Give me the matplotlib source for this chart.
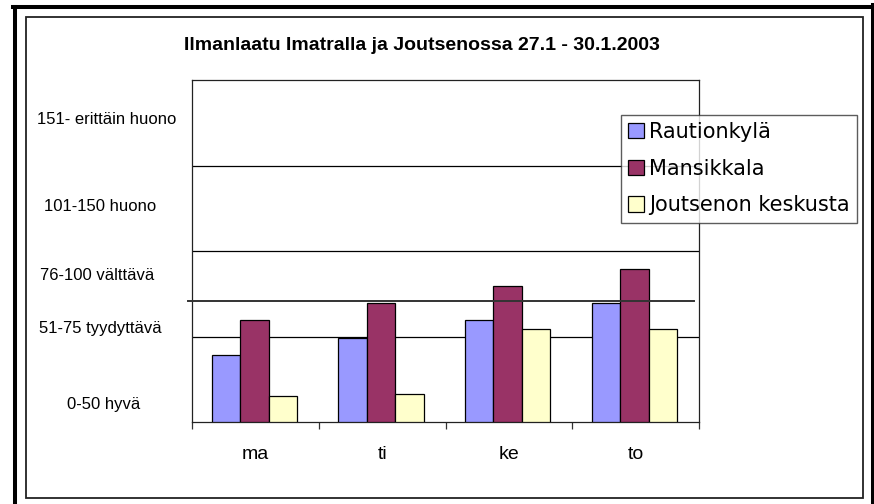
import matplotlib
matplotlib.use("Agg")
import matplotlib.pyplot as plt
import numpy as np
from matplotlib.lines import Line2D
from matplotlib.patches import Patch
import matplotlib.transforms as mtransforms

# ---- data ----
days = ["ma", "ti", "ke", "to"]
series_names = ["Rautionkylä", "Mansikkala", "Joutsenon keskusta"]
rautionkyla = [39.2, 49.0, 59.5, 69.4]
mansikkala = [59.5, 69.4, 79.7, 89.3]
joutseno = [15.4, 16.2, 54.6, 54.6]
band_labels = ["151- erittäin huono", "101-150 huono", "76-100 välttävä",
               "51-75 tyydyttävä", "0-50 hyvä"]
title = "Ilmanlaatu Imatralla ja Joutsenossa 27.1 - 30.1.2003"
colors = ["#9999FF", "#993366", "#FFFFCC"]
threshold = 70.8

W, H = 874, 504
fig = plt.figure(figsize=(W / 100, H / 100), dpi=100)
fig.patch.set_facecolor("white")

def fx(px):
    return px / W

def fy(py):
    return 1 - py / H

# frames
fig.add_artist(Line2D([fx(15), fx(15)], [fy(7), fy(510)], color="black", lw=2.9, transform=fig.transFigure))
fig.add_artist(Line2D([fx(13), fx(880)], [fy(7), fy(7)], color="black", lw=2.9, transform=fig.transFigure))
fig.add_artist(Line2D([fx(872.5), fx(872.5)], [fy(5), fy(510)], color="black", lw=2.9, transform=fig.transFigure))
fig.add_artist(plt.Rectangle((fx(25.5), fy(498)), fx(862.5) - fx(25.5), fy(16.5) - fy(498),
                             fill=False, edgecolor="#222222", lw=1.3, transform=fig.transFigure))

ax = fig.add_axes([fx(192.3), fy(422), fx(699) - fx(192.3), fy(80) - fy(422)])
x = np.arange(len(days))
bw = 0.225
for i, (vals, c, name) in enumerate(zip([rautionkyla, mansikkala, joutseno], colors, series_names)):
    ax.bar(x + (i - 1) * bw - 0.01, vals, width=bw, color=c, edgecolor="black", linewidth=0.9,
           label=name, zorder=3)

ax.set_xlim(-0.5, len(days) - 0.5)
ax.set_ylim(0, 200)
ax.set_yticks([50, 100, 150])
ax.yaxis.grid(True, color="black", linewidth=0.9, zorder=1)
ax.tick_params(axis="y", length=0, labelleft=False)
ax.set_xticks(x)
ax.set_xticklabels(days, fontsize=14, family="Liberation Sans")
ax.set_xticks(np.arange(-0.5, len(days)), minor=True)
ax.tick_params(axis="x", which="major", length=0, pad=17)
ax.tick_params(axis="x", which="minor", length=5, width=0.9, color="#333333")
for s in ax.spines.values():
    s.set_color("#222222")
    s.set_linewidth(0.9)

trans = mtransforms.blended_transform_factory(ax.transAxes, ax.transData)
ax.add_line(Line2D([-0.0085, 0.99], [threshold, threshold], color="#333333", lw=1.4,
                   transform=trans, clip_on=False, zorder=4))

# band labels (text boxes left of the plot)
label_pos = [(106.7, 120), (100.5, 206.7), (96.7, 276), (100.8, 329), (104, 405)]
for lab, (px, py) in zip(band_labels, label_pos):
    fig.text(fx(px), fy(py), lab, ha="center", va="center", fontsize=12, family="Liberation Sans")

fig.text(fx(422), fy(45), title, ha="center", va="center", fontsize=14,
         fontweight="bold", family="Liberation Sans")

handles = [Patch(facecolor=c, edgecolor="black", linewidth=0.9) for c in colors]
leg = fig.legend(handles, series_names, loc="upper left",
                 bbox_to_anchor=(fx(620.7), fy(114.7)), bbox_transform=fig.transFigure,
                 frameon=True, fancybox=False, shadow=False,
                 prop={"family": "DejaVu Sans", "size": 15},
                 handlelength=0.75, handleheight=0.75, handletextpad=0.25,
                 labelspacing=0.8, borderpad=0.35, borderaxespad=0)
leg.get_frame().set_edgecolor("#333333")
leg.get_frame().set_linewidth(1.0)

fig.savefig("out.png", dpi=100, facecolor="white")
